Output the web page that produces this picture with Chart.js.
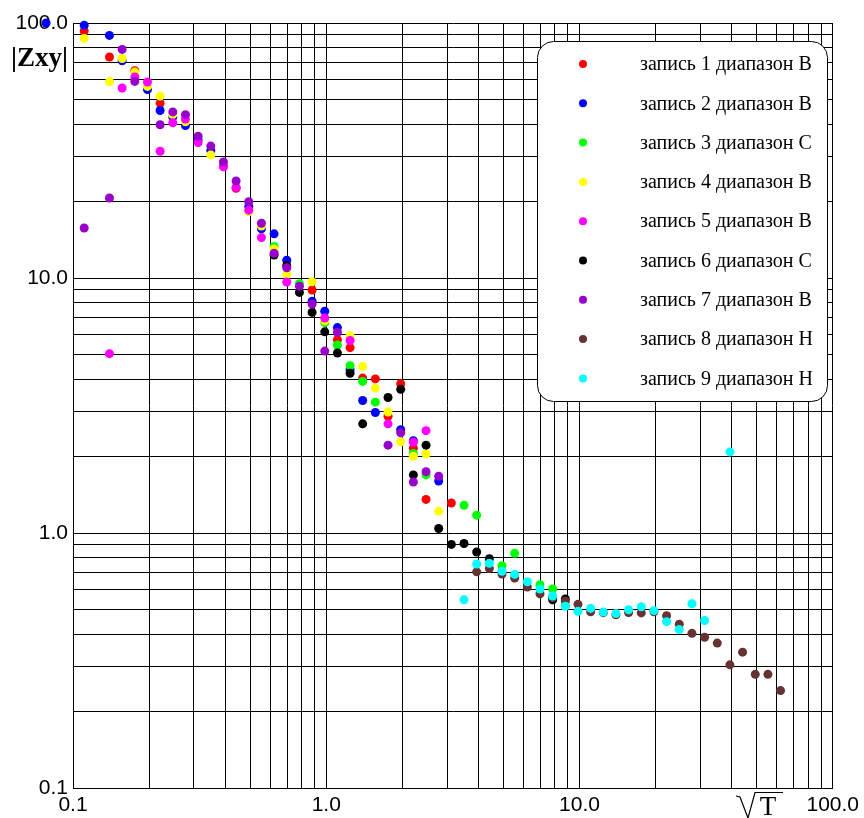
<!DOCTYPE html>
<html>
<head>
<meta charset="utf-8">
<script src="https://cdn.jsdelivr.net/npm/chart.js@4.4.1/dist/chart.umd.min.js"></script>
<style>
  body { margin: 0; background: #fff; }
  canvas { display: block; }
</style>
</head>
<body>
<canvas id="chart" width="864" height="818"></canvas>
<script>
// [sqrt(T), |Zxy|] readings, one array per record
const rec1 = [[0.1107,93.0],[0.1393,73.6],[0.1754,65.0],[0.2208,48.4],[0.3927,27.4],[0.4406,22.5],[0.8792,8.97],
  [1.107,5.73],[1.242,5.33],[1.393,4.05],[1.563,4.02],[1.754,2.87],[1.968,3.85],[2.208,2.15],[2.478,1.354],[3.119,1.311]];
const rec2 = [[0.1107,97.9],[0.1393,89.4],[0.1563,71.1],[0.1968,54.8],[0.2208,45.4],[0.2478,42.8],[0.2780,39.6],
  [0.3119,34.8],[0.3500,31.6],[0.4944,19.1],[0.5547,15.6],[0.6224,14.9],[0.6983,11.74],[0.8792,8.11],[0.9865,7.41],
  [1.107,6.39],[1.242,4.37],[1.393,3.31],[1.563,2.97],[1.968,2.54],[2.208,2.30],[2.780,1.60]];
// record 2 also has a point left of the axis (drawn over the 100.0 label)
const rec2Outside = [[0.0783,100]];
const rec3 = [[0.6224,13.3],[0.7836,9.50],[0.9865,6.68],[1.107,5.46],[1.242,4.53],[1.393,3.93],[1.563,3.26],[2.208,2.05],
  [2.478,1.69],[3.500,1.285],[3.927,1.175],[4.944,0.744],[5.547,0.832],[6.983,0.627],[7.836,0.603],[8.792,0.519]];
const rec4 = [[0.1107,87.0],[0.1393,58.9],[0.1563,72.6],[0.1754,64.2],[0.1968,56.4],[0.2208,51.7],[0.2478,43.7],[0.2780,41.0],
  [0.3500,30.4],[0.4944,18.2],[0.5547,16.0],[0.6224,13.0],[0.6983,10.37],[0.8792,9.67],[0.9865,6.80],[1.242,5.93],
  [1.393,4.50],[1.563,3.70],[1.754,2.98],[1.968,2.28],[2.208,2.00],[2.478,2.04],[2.780,1.216]];
const rec5 = [[0.1393,5.05],[0.1563,55.6],[0.1754,61.4],[0.1968,58.7],[0.2208,31.4],[0.2478,40.6],[0.2780,42.0],[0.3119,34.0],
  [0.3927,27.3],[0.4406,22.7],[0.4944,18.45],[0.5547,14.4],[0.6983,9.65],[0.9865,6.97],[1.242,5.69],[1.754,2.68],
  [2.208,2.27],[2.478,2.52]];
const rec6 = [[0.6224,12.3],[0.6983,11.2],[0.7836,8.78],[0.8792,7.33],[0.9865,6.15],[1.107,5.08],[1.242,4.23],[1.393,2.68],
  [1.754,3.40],[1.968,3.66],[2.208,1.69],[2.478,2.21],[2.780,1.042],[3.119,0.902],[3.500,0.910],[3.927,0.842],
  [4.406,0.793],[7.836,0.547],[8.792,0.551]];
const rec7 = [[0.1107,15.7],[0.1393,20.6],[0.1563,78.8],[0.1754,59.0],[0.2208,39.9],[0.2478,44.8],[0.2780,43.7],[0.3119,36.0],
  [0.3500,32.9],[0.3927,28.5],[0.4406,24.0],[0.4944,19.9],[0.5547,16.4],[0.6224,12.5],[0.6983,10.97],[0.7836,9.29],
  [0.8792,7.91],[0.9865,5.17],[1.107,6.13],[1.754,2.21],[1.968,2.47],[2.208,1.585],[2.478,1.74],[2.780,1.67]];
const rec8 = [[3.927,0.704],[4.406,0.726],[4.944,0.69],[5.547,0.666],[6.224,0.614],[6.983,0.578],[7.836,0.558],[8.792,0.541],
  [9.865,0.525],[11.07,0.491],[12.42,0.487],[13.93,0.478],[15.63,0.488],[17.54,0.486],[19.68,0.491],[22.08,0.474],
  [24.78,0.439],[27.80,0.404],[31.19,0.390],[35.00,0.370],[39.27,0.304],[44.06,0.341],[49.44,0.279],[55.47,0.279],[62.24,0.241]];
const rec9 = [[3.500,0.547],[3.927,0.756],[4.406,0.761],[4.944,0.708],[5.547,0.688],[6.224,0.644],[6.983,0.603],[7.836,0.566],
  [8.792,0.516],[9.865,0.493],[11.07,0.506],[12.42,0.490],[13.93,0.483],[15.63,0.500],[17.54,0.514],[19.68,0.496],
  [22.08,0.449],[24.78,0.418],[27.80,0.528],[31.19,0.454],[39.27,2.08]];

const records = [rec1, rec2, rec3, rec4, rec5, rec6, rec7, rec8, rec9];
const names = ['запись 1 диапазон В', 'запись 2 диапазон В', 'запись 3 диапазон С', 'запись 4 диапазон В',
  'запись 5 диапазон В', 'запись 6 диапазон С', 'запись 7 диапазон В', 'запись 8 диапазон Н', 'запись 9 диапазон Н'];
const colors = ['#ff0000', '#0000ff', '#00ff00', '#ffff00', '#ff00ff', '#000000', '#9900cc', '#663333', '#00ffff'];

const gridTicks = [0.1, 0.2, 0.3, 0.4, 0.5, 0.6, 0.7, 0.8, 0.9, 1, 2, 3, 4, 5, 6, 7, 8, 9,
  10, 20, 30, 40, 50, 60, 70, 80, 90, 100];
const decadeLabels = { 0.1: '0.1', 1: '1.0', 10: '10.0', 100: '100.0' };

function logAxis(size) {
  return {
    type: 'logarithmic',
    min: 0.1,
    max: 100,
    afterBuildTicks: function (axis) {
      axis.ticks = gridTicks.map(function (v) { return { value: v }; });
    },
    afterFit: function (axis) {
      if (axis.isHorizontal()) axis.height = size; else axis.width = size;
    },
    grid: { color: '#000', lineWidth: 1, drawTicks: false },
    border: { display: true, color: '#000', width: 1 },
    ticks: {
      autoSkip: false,
      maxRotation: 0,
      padding: 5,
      color: '#000',
      font: { family: '"Liberation Sans", Arial, sans-serif', size: 21 },
      callback: function (value) { return decadeLabels[value] || ''; }
    }
  };
}

// legend box, axis captions and the off-axis point, drawn over the plot
const extras = {
  id: 'extras',
  afterDatasetsDraw: function (chart) {
    const ctx = chart.ctx;
    const xs = chart.scales.x, ys = chart.scales.y;
    ctx.save();

    // Chart.js skips points outside the chart area, so this one goes through the scales here
    ctx.fillStyle = colors[1];
    rec2Outside.forEach(function (p) {
      ctx.beginPath();
      ctx.arc(xs.getPixelForValue(p[0]), ys.getPixelForValue(p[1]), 4.5, 0, Math.PI * 2);
      ctx.fill();
    });

    ctx.beginPath();
    ctx.roundRect(537.5, 41.5, 290, 360, 16);
    ctx.fillStyle = '#fff';
    ctx.fill();
    ctx.strokeStyle = '#000';
    ctx.lineWidth = 1;
    ctx.stroke();
    ctx.font = '20px "Liberation Serif", "Times New Roman", serif';
    ctx.textBaseline = 'middle';
    ctx.textAlign = 'left';
    chart.data.datasets.forEach(function (ds, i) {
      const y = 64 + i * 39.3;
      ctx.beginPath();
      ctx.arc(583, y, 4, 0, Math.PI * 2);
      ctx.fillStyle = ds.backgroundColor;
      ctx.fill();
      ctx.fillStyle = '#000';
      ctx.fillText(ds.label, 640, y + 1);
    });

    ctx.font = 'bold 27px "Liberation Serif", "Times New Roman", serif';
    ctx.textAlign = 'right';
    ctx.fillText('|Zxy|', 68, 59);

    ctx.beginPath();
    ctx.moveTo(736, 796);
    ctx.lineTo(740, 797);
    ctx.lineTo(748, 818);
    ctx.lineTo(755, 792.5);
    ctx.lineTo(783, 792.5);
    ctx.lineWidth = 1.2;
    ctx.stroke();
    ctx.font = '27px "Liberation Serif", "Times New Roman", serif';
    ctx.textAlign = 'center';
    ctx.textBaseline = 'alphabetic';
    ctx.fillText('T', 768, 815);
    ctx.restore();
  }
};

new Chart(document.getElementById('chart'), {
  type: 'scatter',
  data: {
    datasets: records.map(function (rec, i) {
      return {
        label: names[i],
        data: rec.map(function (p) { return { x: p[0], y: p[1] }; }),
        backgroundColor: colors[i],
        borderWidth: 0,
        pointRadius: 4.5,
        pointHoverRadius: 4.5,
        order: records.length - i,
        clip: false
      };
    })
  },
  options: {
    responsive: false,
    animation: false,
    events: [],
    layout: { autoPadding: false, padding: { top: 23, right: 23, left: 0, bottom: 0 } },
    plugins: { legend: { display: false }, tooltip: { enabled: false } },
    scales: {
      x: logAxis(30),
      y: logAxis(73)
    }
  },
  plugins: [extras]
});
</script>
</body>
</html>
